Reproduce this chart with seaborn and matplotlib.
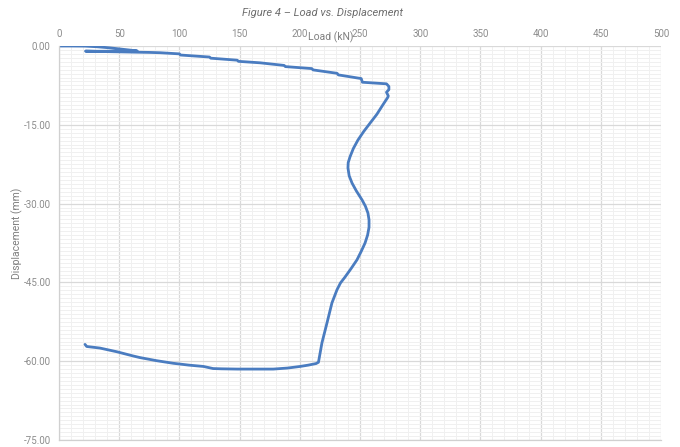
import matplotlib
matplotlib.use("Agg")
import matplotlib.pyplot as plt
from matplotlib.ticker import MultipleLocator, FormatStrFormatter
import pandas as pd
import seaborn as sns

# Load (kN) and displacement (mm) recorded through the test
load_kn = [0, 10, 21.6, 32, 42, 52, 59, 65, 52, 40, 30, 22,
           30, 42, 52, 65, 75, 84, 100, 101, 125, 126, 148, 149, 167,
           187, 188, 210, 211, 231, 232, 251, 252, 272, 274, 274, 272,
           273.5, 273, 269, 264, 258.3, 253, 248.3, 244.5, 241.7, 240.2,
           240, 241, 243.4, 247, 251.7, 254.5, 256.6, 257.5, 257.5, 256.3,
           254.2, 251, 247.5, 242.5, 237.5, 233.8, 230.9, 226.7, 222.6,
           218.4, 215.5, 213.5, 207, 200.2, 190, 178, 163, 148, 135, 128,
           120, 108, 95, 81, 67, 61.5, 48, 34, 23, 21.6]
displacement_mm = [0, 0, -0.02, -0.15, -0.35, -0.6, -0.78, -0.95, -1.0, -1.0, -1.0, -0.98,
                   -1.02, -1.08, -1.12, -1.18, -1.22, -1.28, -1.5, -1.72, -2.1, -2.32, -2.7, -2.92, -3.2,
                   -3.7, -3.92, -4.3, -4.55, -5.2, -5.5, -6.2, -6.9, -7.2, -7.7, -8.3, -8.8,
                   -9.5, -9.8, -11.2, -13.0, -14.7, -16.3, -17.9, -19.5, -21.1, -22.2,
                   -23.2, -24.7, -26.1, -27.6, -29.3, -30.5, -31.8, -33.1, -34.5, -36.0,
                   -37.5, -39.1, -40.7, -42.4, -44.0, -45.1, -46.4, -48.9, -52.7,
                   -56.5, -60.2, -60.45, -60.75, -61.0, -61.3, -61.5, -61.5, -61.5, -61.45, -61.4,
                   -61.0, -60.75, -60.4, -59.9, -59.3, -59.0, -58.2, -57.5, -57.2, -56.8]

x_ticks = list(range(0, 501, 50))
y_ticks = [0, -15, -30, -45, -60, -75]

df = pd.DataFrame({"Load (kN)": load_kn, "Displacement (mm)": displacement_mm})

sns.set_theme(style="white")
plt.rcParams["font.family"] = ["Roboto", "DejaVu Sans"]

fig = plt.figure(figsize=(6.8, 4.47), dpi=100)
ax = fig.add_axes([59 / 680, 1 - 440 / 447, 602 / 680, 394 / 447])

# minor then major gridlines, drawn beneath the curve
ax.set_axisbelow(True)
ax.xaxis.set_major_locator(MultipleLocator(50))
ax.xaxis.set_minor_locator(MultipleLocator(10))
ax.yaxis.set_major_locator(MultipleLocator(15))
ax.yaxis.set_minor_locator(MultipleLocator(0.75))
ax.grid(which="minor", color="#f0f0f0", linewidth=0.7)
ax.grid(which="major", color="#d9d9d9", linewidth=0.9)

sns.lineplot(data=df, x="Load (kN)", y="Displacement (mm)", sort=False,
             estimator=None, color="#4a7cc0", linewidth=2.0, ax=ax)

ax.set_xlim(0, 500)
ax.set_ylim(-75, 0)
ax.set_xticks(x_ticks)
ax.set_yticks(y_ticks)
ax.yaxis.set_major_formatter(FormatStrFormatter("%.2f"))
ax.xaxis.tick_top()
ax.tick_params(which="both", length=0, labelsize=7, colors="#8c8c8c", pad=6)
ax.tick_params(axis="x", pad=5)

for side in ("top", "right"):
    ax.spines[side].set_visible(False)
for side in ("left", "bottom"):
    ax.spines[side].set_color("#d0d0d0")
    ax.spines[side].set_linewidth(0.9)

ax.set_xlabel("")
ax.set_ylabel("Displacement (mm)", fontsize=7.5, color="#7f7f7f")
ax.yaxis.set_label_coords(-0.059, 0.525)
fig.text(331 / 680, 1 - 37 / 447, "Load (kN)", ha="center", va="center",
         fontsize=7.5, color="#7f7f7f")
fig.text(322 / 680, 1 - 13 / 447, "Figure 4 \u2013 Load vs. Displacement",
         ha="center", va="center", fontsize=8, style="italic", color="#6e6e6e")

fig.savefig("out.png", dpi=100)
